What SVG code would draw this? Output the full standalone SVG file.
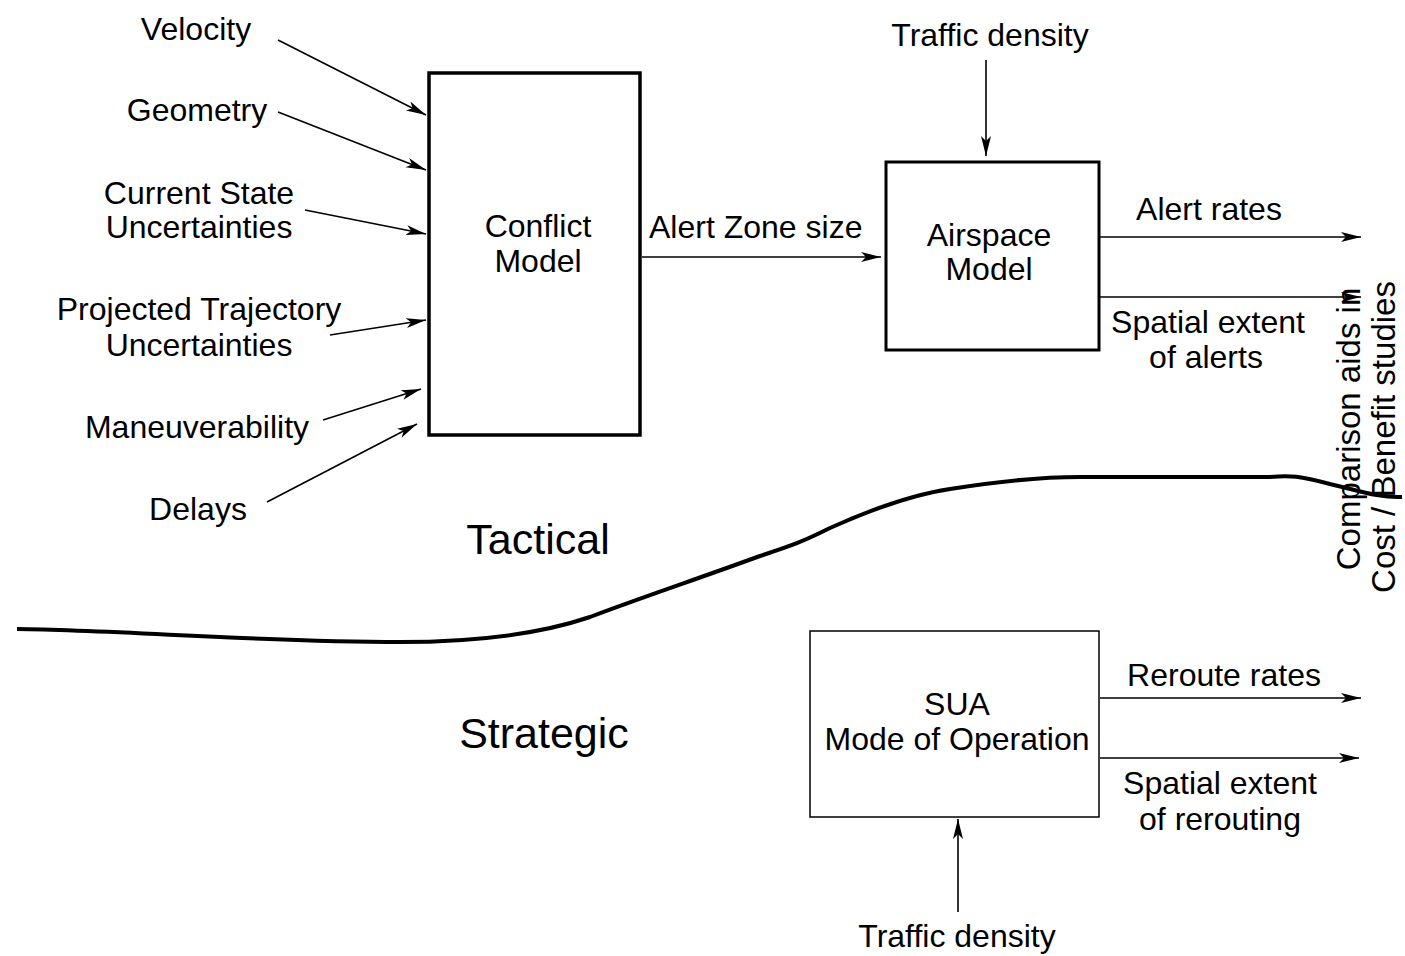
<svg xmlns="http://www.w3.org/2000/svg" width="1405" height="956" viewBox="0 0 1405 956">
<style>
text{font-family:"Liberation Sans",Arial,sans-serif;font-size:32px;fill:#000;text-anchor:middle}
.big{font-size:43px}
.rot{font-size:33px}
.conn line{stroke:#000;stroke-width:1.6;marker-end:url(#ah)}
.box{fill:#fff;stroke:#000}
</style>
<defs>
<marker id="ah" markerUnits="userSpaceOnUse" markerWidth="22" markerHeight="12" refX="20" refY="5" orient="auto">
<path d="M0,0 L20,5 L0,10 L5,5 z" fill="#000"/>
</marker>
</defs>
<rect width="1405" height="956" fill="#fff"/>

<path id="divider" d="M17,629 C120,630 260,642 400,642 C480,642 540,634 590,617 C640,598 700,578 760,556 C790,546 800,543 830,528 C870,510 910,495 950,489 C1000,481 1040,477 1080,477 L1270,477 C1290,475 1300,476 1330,484 C1360,491 1380,498 1402,497" fill="none" stroke="#000" stroke-width="4"/>

<g id="conflict-model">
<rect class="box" x="429" y="73" width="211" height="362" stroke-width="3.5"/>
<text x="538" y="237">Conflict</text>
<text x="538" y="272">Model</text>
</g>
<g id="airspace-model">
<rect class="box" x="886" y="162" width="213" height="188" stroke-width="3"/>
<text x="989" y="246">Airspace</text>
<text x="989" y="280">Model</text>
</g>
<g id="sua">
<rect class="box" x="810" y="631" width="289" height="186" stroke-width="1.5"/>
<text x="957" y="715">SUA</text>
<text x="957" y="750">Mode of Operation</text>
</g>

<g id="labels">
<text x="196" y="40">Velocity</text>
<text x="197" y="121">Geometry</text>
<text x="199" y="204">Current State</text>
<text x="199" y="238">Uncertainties</text>
<text x="199" y="320">Projected Trajectory</text>
<text x="199" y="356">Uncertainties</text>
<text x="197" y="438">Maneuverability</text>
<text x="198" y="520">Delays</text>
<text x="649" y="238" style="text-anchor:start">Alert Zone size</text>
<text x="990" y="46">Traffic density</text>
<text x="1209" y="220">Alert rates</text>
<text x="1208" y="333">Spatial extent</text>
<text x="1206" y="368">of alerts</text>
<text class="big" x="538" y="554">Tactical</text>
<text class="big" x="544" y="748">Strategic</text>
<text x="1224" y="686">Reroute rates</text>
<text x="1220" y="794">Spatial extent</text>
<text x="1220" y="830">of rerouting</text>
<text x="957" y="947">Traffic density</text>
<text class="rot" transform="translate(1360,429) rotate(-90)">Comparison aids in</text>
<text class="rot" transform="translate(1395,437) rotate(-90)">Cost / Benefit studies</text>
</g>

<g class="conn" id="connectors">
<line x1="278" y1="40" x2="426" y2="115"/>
<line x1="278" y1="112" x2="426" y2="170"/>
<line x1="305" y1="210" x2="426" y2="234"/>
<line x1="330" y1="335" x2="426" y2="320"/>
<line x1="323" y1="420" x2="421" y2="389"/>
<line x1="267" y1="502" x2="417" y2="424"/>
<line x1="642" y1="257" x2="881" y2="257"/>
<line x1="986" y1="60" x2="986" y2="156"/>
<line x1="1100" y1="237" x2="1361" y2="237"/>
<line x1="1100" y1="297" x2="1361" y2="297"/>
<line x1="1100" y1="698" x2="1361" y2="698"/>
<line x1="1100" y1="758" x2="1359" y2="758"/>
<line x1="958" y1="912" x2="958" y2="819"/>
</g>
</svg>
